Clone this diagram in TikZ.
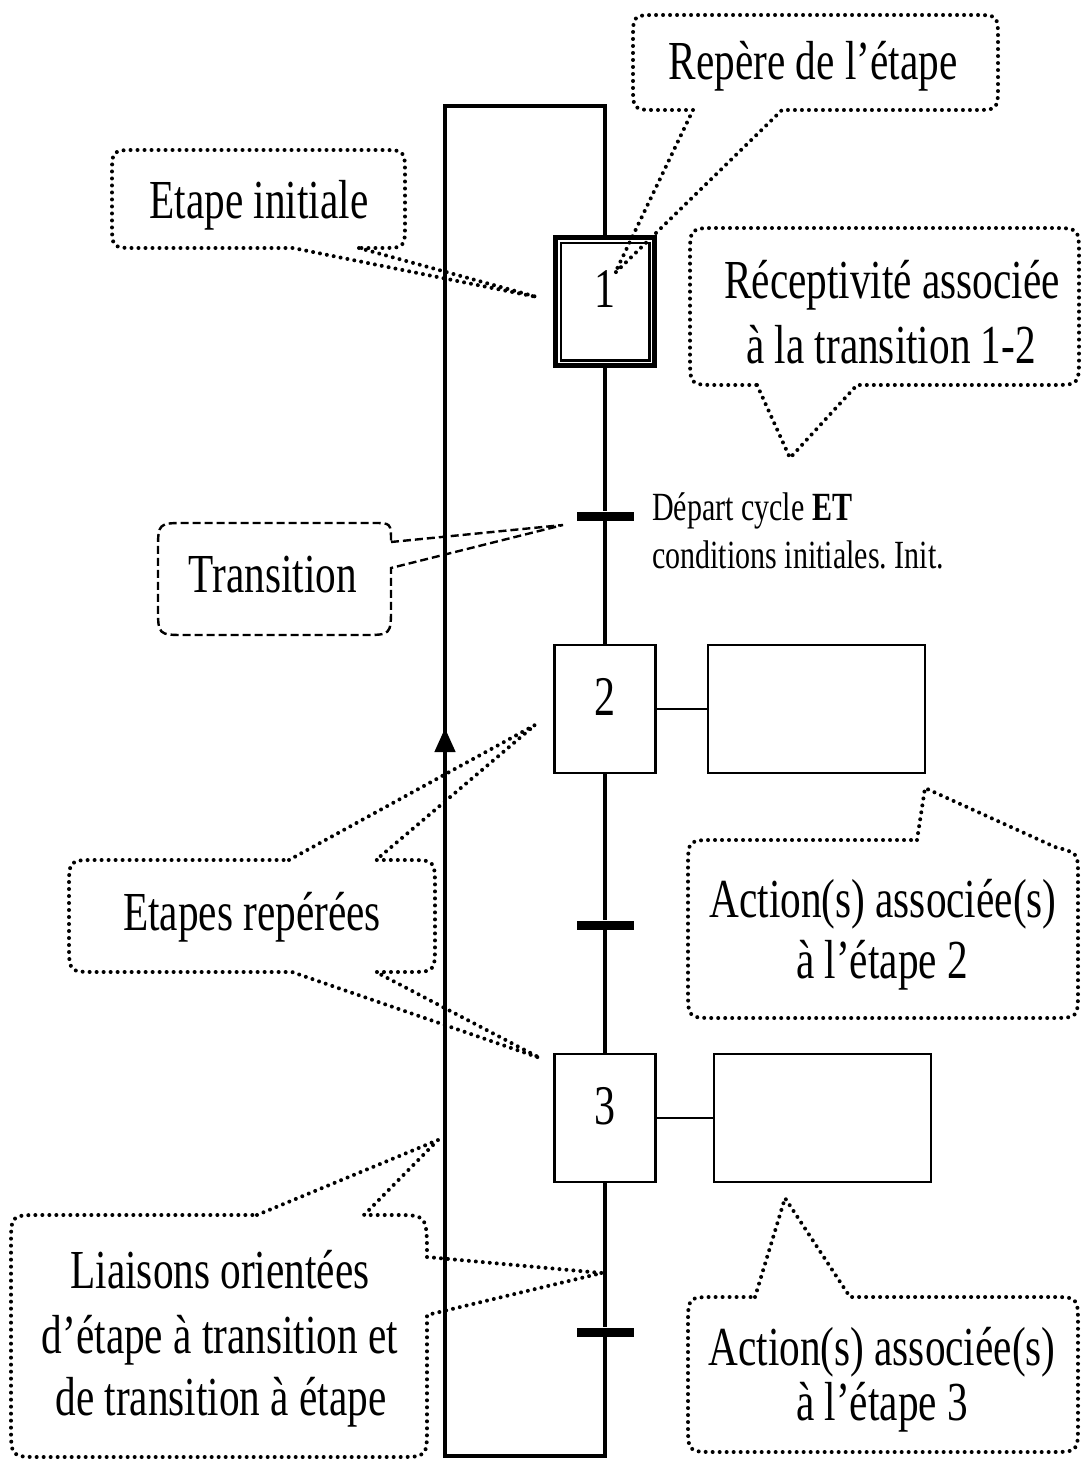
\documentclass[tikz,border=0pt]{standalone}
\usepackage{fontspec}
\setmainfont{Liberation Serif}[FakeStretch=0.75]
\usetikzlibrary{arrows.meta}
\frenchspacing
\begin{document}
\begin{tikzpicture}[x=1pt,y=1pt,
  big/.style={font=\fontsize{55}{62}\selectfont, inner sep=0pt, anchor=base},
  small/.style={font=\fontsize{40}{46}\selectfont, inner sep=0pt, anchor=base west},
  stepbox/.style={draw, line width=2.5pt, minimum width=101pt, minimum height=128pt, inner sep=0pt, font=\fontsize{56}{64}\selectfont, text depth=24pt},
  actbox/.style={draw, line width=2.5pt, minimum width=217pt, minimum height=128pt, inner sep=0pt},
  trans/.style={fill=black, minimum width=57pt, minimum height=9pt, inner sep=0pt},
  flow/.style={line width=4.5pt, line join=miter},
  callout/.style={line width=4pt, line cap=round, dash pattern=on 0pt off 7pt},
  dcallout/.style={line width=2.4pt, dash pattern=on 8pt off 4pt},
]
\useasboundingbox (0,0) rectangle (1082,-1461);

% ---------- steps, transitions, actions ----------
\node[stepbox, line width=5pt, minimum width=99pt] (step1) at (605,-301.5) {1};
\draw[line width=2.6pt] ([shift={(7.8,-7.8)}]step1.north west) rectangle ([shift={(-7.8,7.8)}]step1.south east);
\node[trans] (t1) at (605,-516) {};
\node[stepbox] (step2) at (605,-709) {2};
\node[actbox] (act2) at (816.5,-709) {};
\node[trans] (t2) at (605,-925) {};
\node[stepbox] (step3) at (605,-1118) {3};
\node[actbox] (act3) at (822.5,-1118) {};
\node[trans] (t3) at (605,-1332) {};

\draw[flow] (step1.south) -- (t1.north);
\draw[flow] (t1.south) -- (step2.north);
\draw[flow] (step2.south) -- (t2.north);
\draw[flow] (t2.south) -- (step3.north);
\draw[flow] (step3.south) -- (t3.north);
\draw[line width=2.5pt] (step2.east) -- (act2.west);
\draw[line width=2.5pt] (step3.east) -- (act3.west);

\coordinate (br) at (605,-1456);
\coordinate (bl) at (445,-1456);
\coordinate (tl) at (445,-106);
\coordinate (tr) at (605,-106);
\coordinate (arrowtip) at (445,-728);
\draw[flow] (t3.south) -- (br) -- (bl) -- (tl) -- (tr) -- (step1.north);
\draw[flow, -{Triangle[length=24pt,width=20pt]}] (bl) -- (arrowtip);

% ---------- receptivity text ----------
\node[small] (rec1) at (652,-520) {Départ cycle \textbf{ET}};
\node[small] (rec2) at (652,-568) {conditions initiales. Init.};

% ---------- callout: Repère de l'étape ----------
\coordinate (tipRep) at (615,-273);
\draw[callout] (693,-110) -- (tipRep) -- (782,-110) -- (973,-110) .. controls (998,-110) .. (998,-85)
  -- (998,-40) .. controls (998,-15) .. (973,-15) -- (658,-15) .. controls (633,-15) .. (633,-40)
  -- (633,-85) .. controls (633,-110) .. (658,-110) -- cycle;
\node[big] (rep) at (813,-80) {Repère de l’étape};

% ---------- callout: Etape initiale ----------
\coordinate (tipIni) at (537,-297);
\draw[callout] (359,-248) -- (tipIni) -- (293,-248) -- (137,-248) .. controls (112,-248) .. (112,-223)
  -- (112,-175) .. controls (112,-150) .. (137,-150) -- (380,-150) .. controls (405,-150) .. (405,-175)
  -- (405,-223) .. controls (405,-248) .. (380,-248) -- cycle;
\node[big] (ini) at (259,-218) {Etape initiale};

% ---------- callout: Réceptivité ----------
\coordinate (tipRec) at (790,-458);
\draw[callout] (757,-385) -- (tipRec) -- (857,-385) -- (1051,-385) .. controls (1079,-385) .. (1079,-357)
  -- (1079,-256) .. controls (1079,-228) .. (1051,-228) -- (718,-228) .. controls (690,-228) .. (690,-256)
  -- (690,-357) .. controls (690,-385) .. (718,-385) -- cycle;
\node[big] (recA) at (892,-298) {Réceptivité associée};
\node[big] (recB) at (891,-363) {à la transition 1-2};

% ---------- callout: Transition (dashed) ----------
\coordinate (tipTr) at (563,-525);
\draw[dcallout] (391,-542) -- (tipTr) -- (391,-568) -- (391,-607) .. controls (391,-635) .. (363,-635)
  -- (186,-635) .. controls (158,-635) .. (158,-607) -- (158,-551) .. controls (158,-523) .. (186,-523)
  -- (373,-523) .. controls (391,-523) .. cycle;
\node[big] (tra) at (273,-592) {Transition};

% ---------- callout: Etapes repérées ----------
\coordinate (tipE2) at (535,-725);
\coordinate (tipE3) at (540,-1058);
\draw[callout] (289,-860) -- (tipE2) -- (376,-860) -- (407,-860) .. controls (435,-860) .. (435,-888)
  -- (435,-944) .. controls (435,-972) .. (407,-972) -- (376,-972) -- (tipE3) -- (292,-972)
  -- (97,-972) .. controls (69,-972) .. (69,-944) -- (69,-888) .. controls (69,-860) .. (97,-860) -- cycle;
\node[big] (rep2) at (252,-930) {Etapes repérées};

% ---------- callout: Action(s) étape 2 ----------
\coordinate (tipA2) at (925,-788);
\draw[callout] (917,-840) -- (tipA2) -- (1055,-847) .. controls (1078,-853) .. (1078,-875)
  -- (1078,-990) .. controls (1078,-1018) .. (1050,-1018) -- (716,-1018) .. controls (688,-1018) .. (688,-990)
  -- (688,-868) .. controls (688,-840) .. (716,-840) -- cycle;
\node[big] (a2a) at (883,-917) {Action(s) associée(s)};
\node[big] (a2b) at (882,-978) {à l’étape 2};

% ---------- callout: Action(s) étape 3 ----------
\coordinate (tipA3) at (785,-1198);
\draw[callout] (755,-1297) -- (tipA3) -- (850,-1297) -- (1050,-1297) .. controls (1078,-1297) .. (1078,-1325)
  -- (1078,-1424) .. controls (1078,-1452) .. (1050,-1452) -- (716,-1452) .. controls (688,-1452) .. (688,-1424)
  -- (688,-1325) .. controls (688,-1297) .. (716,-1297) -- cycle;
\node[big] (a3a) at (882,-1365) {Action(s) associée(s)};
\node[big] (a3b) at (882,-1420) {à l’étape 3};

% ---------- callout: Liaisons orientées ----------
\coordinate (tipL1) at (438,-1140);
\coordinate (tipL2) at (602,-1273);
\draw[callout] (257,-1215) -- (tipL1) -- (364,-1215) -- (395,-1215) .. controls (427,-1215) .. (427,-1257)
  -- (tipL2) -- (427,-1315) -- (427,-1427) .. controls (427,-1457) .. (397,-1457)
  -- (41,-1457) .. controls (11,-1457) .. (11,-1427) -- (11,-1245) .. controls (11,-1215) .. (41,-1215) -- cycle;
\node[big] (li1) at (220,-1288) {Liaisons orientées};
\node[big] (li2) at (220,-1353) {d’étape à transition et};
\node[big] (li3) at (221,-1415) {de transition à étape};
\end{tikzpicture}
\end{document}
